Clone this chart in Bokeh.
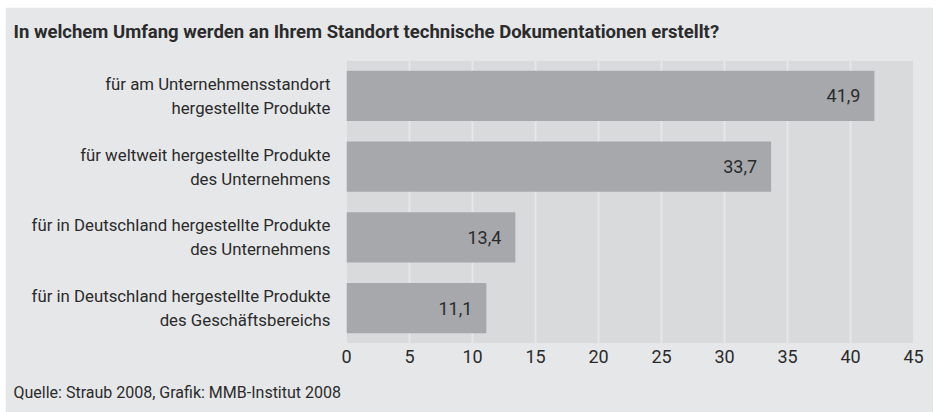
from bokeh.plotting import figure
from bokeh.models import Range1d, FactorRange, Title, FixedTicker, ColumnDataSource
from bokeh.core.properties import value
from bokeh.embed import file_html
from bokeh.resources import INLINE

title_text = "In welchem Umfang werden an Ihrem Standort technische Dokumentationen erstellt?"
source_text = "Quelle: Straub 2008, Grafik: MMB-Institut 2008"
categories = [
    "für am Unternehmensstandort\nhergestellte Produkte",
    "für weltweit hergestellte Produkte\ndes Unternehmens",
    "für in Deutschland hergestellte Produkte\ndes Unternehmens",
    "für in Deutschland hergestellte Produkte\ndes Geschäftsbereichs",
]
values = [41.9, 33.7, 13.4, 11.1]
value_labels = ["41,9", "33,7", "13,4", "11,1"]
x_ticks = [0, 5, 10, 15, 20, 25, 30, 35, 40, 45]

FONT = "Roboto"
TXT = "#2b2b2b"

p = figure(width=928, height=405, output_backend="svg", toolbar_location=None,
           x_range=Range1d(0, 45), y_range=FactorRange(factors=categories[::-1]),
           min_border_left=341, min_border_right=20, min_border_top=53, min_border_bottom=69)
p.styles = {"margin-left": "5px", "margin-top": "7px"}
p.border_fill_color = "#e6e7e9"
p.background_fill_color = "#d9dadc"
p.outline_line_color = None

src = ColumnDataSource(dict(cat=categories, val=values, lab=value_labels))
p.hbar(y="cat", right="val", left=0, height=0.707, source=src,
       fill_color="#a7a8ab", line_color=None)
p.text(x="val", y="cat", text="lab", source=src, x_offset=-14,
       text_align="right", text_baseline="middle",
       text_font=value(FONT), text_font_size="18px", text_color=TXT)

p.xaxis.ticker = FixedTicker(ticks=x_ticks)
p.xaxis.axis_line_color = None
p.xaxis.major_tick_line_color = None
p.xaxis.minor_tick_line_color = None
p.xaxis.major_label_text_font = FONT
p.xaxis.major_label_text_font_size = "18px"
p.xaxis.major_label_text_color = TXT
p.xaxis.major_label_standoff = 0

p.yaxis.axis_line_color = None
p.yaxis.major_tick_line_color = None
p.yaxis.minor_tick_line_color = None
p.yaxis.major_label_text_font = FONT
p.yaxis.major_label_text_font_size = "16.8px"
p.yaxis.major_label_text_color = TXT
p.yaxis.major_label_standoff = 10

p.xgrid.grid_line_color = "#e6e7e9"
p.xgrid.grid_line_width = 2
p.ygrid.grid_line_color = None

# spacers and texts outside the frame
p.add_layout(Title(text=" ", text_font_size="2px", standoff=3), "above")
p.add_layout(Title(text=title_text, align="left", offset=-333, standoff=21,
                   text_font=FONT, text_font_style="bold", text_font_size="18.5px",
                   text_color=TXT), "above")
p.add_layout(Title(text=" ", text_font_size="2px", standoff=6), "below")
p.add_layout(Title(text=source_text, align="left", offset=-333, standoff=10,
                   text_font=FONT, text_font_style="normal", text_font_size="16px",
                   text_color=TXT), "below")

open("out.html", "w").write(file_html(p, INLINE))
